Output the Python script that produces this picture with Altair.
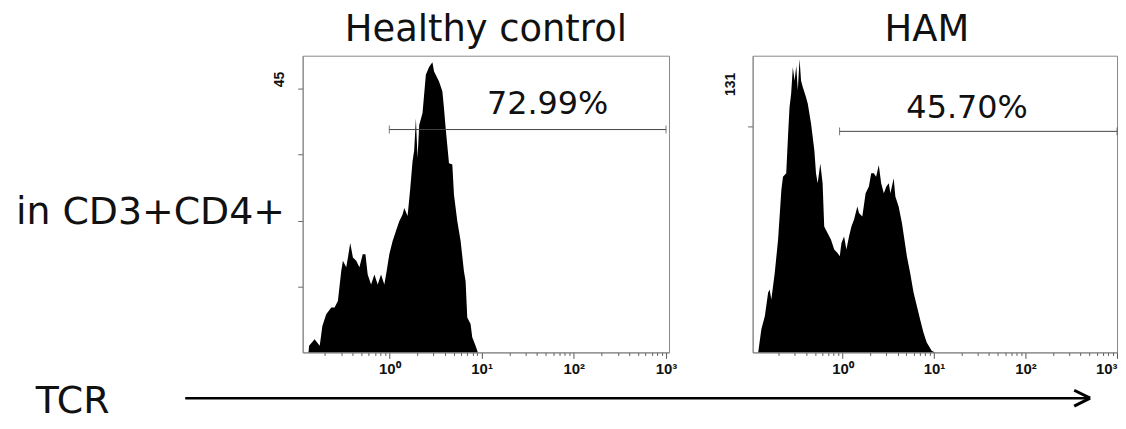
import altair as alt
import pandas as pd

# ---- data ----
hc_tcr = [0.133, 0.135, 0.155, 0.176, 0.188, 0.207, 0.235, 0.255, 0.277, 0.289, 0.301, 0.314,
          0.341, 0.356, 0.377, 0.403, 0.438, 0.474, 0.515, 0.551, 0.583, 0.634, 0.689, 0.748,
          0.813, 0.883, 0.935, 1.0, 1.086, 1.180, 1.282, 1.393, 1.452, 1.578, 1.687, 1.786,
          1.862, 1.941, 2.023, 2.109, 2.291, 2.489, 2.698, 2.931, 3.055, 3.184, 3.459, 3.758,
          3.917, 4.083, 4.436, 4.819, 5.023, 5.458, 5.929, 6.442, 6.714, 6.998, 7.603, 7.925,
          8.610, 9.120]
hc_count = [0, 1.0, 2.0, 1.0, 4.0, 5.8, 6.8, 6.8, 7.8, 10.1, 12.3, 13.9,
            12.9, 14.4, 16.6, 14.4, 13.9, 12.9, 14.9, 14.9, 11.8, 10.3, 11.8, 10.3,
            11.8, 10.3, 12.3, 14.9, 16.9, 18.4, 19.9, 20.9, 21.9, 20.7, 24.9, 29.0,
            30.7, 35.5, 29.5, 34.5, 36.3, 42.1, 43.3, 44.0, 42.6, 42.1, 41.1, 39.6,
            37.0, 34.0, 28.7, 28.5, 23.9, 19.9, 16.9, 12.3, 10.8, 5.3, 4.3, 2.3,
            1.0, 0]

ham_tcr = [0.120, 0.130, 0.142, 0.154, 0.160, 0.167, 0.182, 0.198, 0.215, 0.224, 0.243, 0.254,
           0.264, 0.275, 0.287, 0.300, 0.313, 0.325, 0.340, 0.353, 0.369, 0.400, 0.418, 0.454,
           0.493, 0.514, 0.536, 0.573, 0.607, 0.632, 0.687, 0.748, 0.813, 0.883, 0.935, 0.975,
           1.042, 1.104, 1.180, 1.253, 1.337, 1.455, 1.517, 1.648, 1.791, 1.945, 2.061, 2.203,
           2.333, 2.495, 2.649, 2.831, 3.020, 3.206, 3.342, 3.631, 3.784, 4.111, 4.467, 5.058,
           5.495, 5.984, 6.501, 7.047, 7.674, 8.337, 9.441, 10.26]
ham_count = [0, 10.2, 16.1, 26.3, 27.8, 23.4, 35.1, 49.8, 71.7, 77.6, 79.1, 95.2,
             108.3, 114.2, 125.9, 120.0, 126.6, 115.7, 129.6, 120.0, 117.1, 112.7, 109.8, 101.0,
             89.3, 79.1, 74.7, 83.4, 74.7, 55.6, 52.7, 49.8, 45.4, 43.9, 42.5, 48.3,
             51.2, 45.4, 51.2, 55.6, 58.6, 64.4, 61.5, 60.0, 70.3, 73.2, 79.1, 79.1,
             77.6, 82.7, 74.7, 70.3, 73.2, 74.7, 70.3, 76.9, 68.8, 64.4, 57.1, 42.5,
             35.1, 26.4, 20.5, 14.6, 8.8, 4.4, 0.7, 0]

titles = ["Healthy control", "HAM"]
percents = ["72.99%", "45.70%"]
y_max = [45, 131]
y_ticks = [[10, 20, 30, 40], [100]]
gate_low = [1.0, 0.93]
gate_high = [1000, 1000]
gate_level = [33.8, 97.6]
pct_pos_x = [52, 23]
pct_pos_y = [37.6, 108]
x_domains = [[0.115, 1077], [0.1044, 1000]]
decades = [1, 10, 100, 1000]
tick_vals = [m * d for d in [0.1, 1, 10, 100] for m in range(2, 10)] + decades

FONT = "DejaVu Sans"
label_expr = ("datum.value == 1 ? '10⁰' : datum.value == 10 ? '10¹' : "
              "datum.value == 100 ? '10²' : datum.value == 1000 ? '10³' : ''")


def one(text):
    return pd.DataFrame({"t": [text]})


def panel(i, w, h, title_x, max_x, max_y, flush, extra=None):
    df = pd.DataFrame({"tcr": [hc_tcr, ham_tcr][i], "count": [hc_count, ham_count][i]})
    xs = alt.Scale(type="log", domain=x_domains[i], nice=False)
    ys = alt.Scale(domain=[0, y_max[i]], nice=False, zero=True)
    xaxis = alt.Axis(values=tick_vals, labelExpr=label_expr, title=None, grid=False,
                     tickSize={"condition": {"test": "indexof([1,10,100,1000], datum.value) >= 0",
                                             "value": 6}, "value": 3},
                     tickColor="#555", domainColor="#888", labelFont="Liberation Sans",
                     labelFontWeight="bold", labelFontSize=15, labelColor="#111",
                     labelPadding=3, labelOverlap=False, labelFlush=flush)
    yaxis = alt.Axis(values=y_ticks[i], labels=False, title=None, grid=False, tickSize=5,
                     tickColor="#666", domainColor="#888")
    area = alt.Chart(df).mark_area(color="black", clip=True, interpolate="linear").encode(
        x=alt.X("tcr:Q", scale=xs, axis=xaxis),
        y=alt.Y("count:Q", scale=ys, axis=yaxis),
    )
    gdf = pd.DataFrame({"a": [gate_low[i]], "b": [gate_high[i]], "y": [gate_level[i]]})
    gate = alt.Chart(gdf).mark_rule(color="#444", strokeWidth=1).encode(
        x=alt.X("a:Q", scale=xs), x2="b:Q", y=alt.Y("y:Q", scale=ys))
    gdf2 = pd.DataFrame({"x": [gate_low[i], gate_high[i]], "y": [gate_level[i]] * 2})
    ends = alt.Chart(gdf2).mark_tick(color="#444", orient="vertical", size=8, thickness=1).encode(
        x=alt.X("x:Q", scale=xs), y=alt.Y("y:Q", scale=ys))
    pdf = pd.DataFrame({"x": [pct_pos_x[i]], "y": [pct_pos_y[i]], "t": [percents[i]]})
    pct = alt.Chart(pdf).mark_text(font=FONT, fontSize=32, color="#111", baseline="middle",
                                   align="center").encode(
        x=alt.X("x:Q", scale=xs), y=alt.Y("y:Q", scale=ys), text="t:N")
    ttl = alt.Chart(one(titles[i])).mark_text(font=FONT, fontSize=37, color="#111",
                                              baseline="alphabetic", align="center").encode(
        x=alt.value(title_x), y=alt.value(-15), text="t:N")
    mx = alt.Chart(one(str(y_max[i]))).mark_text(font="Liberation Sans", fontWeight="bold",
                                                 fontSize=14, angle=270, align="right",
                                                 baseline="middle", color="#111").encode(
        x=alt.value(max_x), y=alt.value(max_y), text="t:N")
    layers = [area, gate, ends, pct, ttl, mx]
    if extra:
        layers += extra
    return alt.layer(*layers).properties(width=w, height=h)


ylab = alt.Chart(one("in CD3+CD4+")).mark_text(font=FONT, fontSize=38, color="#111",
                                               align="left", baseline="alphabetic").encode(
    x=alt.value(-288), y=alt.value(169), text="t:N")
tcr_lab = alt.Chart(one("TCR")).mark_text(font=FONT, fontSize=38, color="#111",
                                          align="left", baseline="alphabetic").encode(
    x=alt.value(-268), y=alt.value(359), text="t:N")
arrow_line = alt.Chart(one("a")).mark_rule(color="black", strokeWidth=2.5).encode(
    x=alt.value(-118), x2=alt.value(790), y=alt.value(344))
head1 = alt.Chart(one("a")).mark_rule(color="black", strokeWidth=3).encode(
    x=alt.value(775), x2=alt.value(791), y=alt.value(336), y2=alt.value(344))
head2 = alt.Chart(one("a")).mark_rule(color="black", strokeWidth=3).encode(
    x=alt.value(775), x2=alt.value(791), y=alt.value(352), y2=alt.value(344))
# invisible frame that fixes the page layout (left/top/bottom extent)
anchor = alt.Chart(one("a")).mark_rect(opacity=0).encode(
    x=alt.value(-295), x2=alt.value(-294), y=alt.value(-46), y2=alt.value(364))

left = panel(0, 368, 298, 184, -23, 16, False,
             extra=[ylab, tcr_lab, arrow_line, head1, head2, anchor])
right = panel(1, 366, 298, 175, -22, 17, True)

chart = alt.hconcat(left, right, spacing=84, bounds="flush").properties(
    padding=0,
    background="white",
).configure_view(stroke="#888", strokeWidth=1)

chart.save("out.html", embed_options={"renderer": "svg", "actions": False})
